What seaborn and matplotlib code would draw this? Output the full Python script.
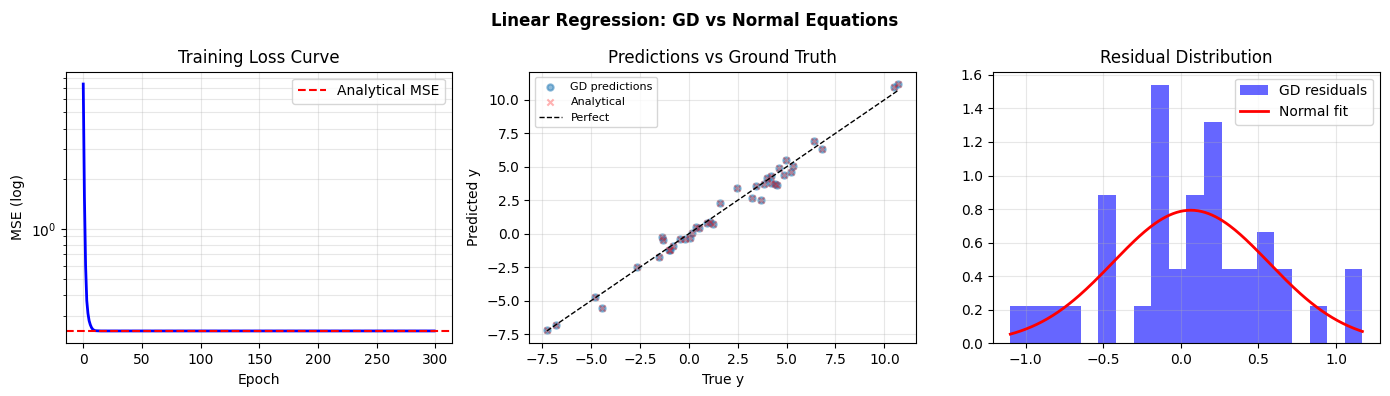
import numpy as np
import pandas as pd
import matplotlib
matplotlib.use("Agg")
import matplotlib.pyplot as plt
import seaborn as sns

# ---------------- data ----------------
epochs = [0, 1, 2, 3, 4, 5, 6, 7, 8, 9, 10, 12, 15, 299]
loss = [7.4, 1.55, 0.60, 0.37, 0.31, 0.28, 0.265, 0.255, 0.249, 0.246, 0.244, 0.2435, 0.243, 0.243]
analytical_mse = 0.243

y_true = [-7.26, -6.80, -4.80, -4.44, -2.63, -1.55, -1.35, -1.31, -1.01, -0.94,
          -0.80, -0.43, -0.20, 0.05, 0.14, 0.36, 0.53, 0.94, 1.08, 1.25,
          1.60, 2.48, 3.24, 3.45, 3.69, 3.86, 4.00, 4.18, 4.22, 4.51,
          4.61, 4.87, 4.99, 5.22, 5.31, 6.42, 6.83, 10.50, 10.72, 4.40]
y_pred_gd = [-7.16, -6.79, -4.69, -5.52, -2.45, -1.72, -0.25, -0.47, -1.25, -1.24,
             -0.92, -0.40, -0.42, -0.29, 0.02, 0.53, 0.45, 0.82, 0.85, 0.70,
             2.27, 3.39, 2.65, 3.54, 2.52, 3.69, 4.17, 4.34, 3.77, 3.65,
             4.89, 4.42, 5.50, 4.59, 5.07, 6.91, 6.32, 10.96, 11.18, 3.75]
y_pred_analytical = list(y_pred_gd)

# ---------------- figure ----------------
fig, axes = plt.subplots(1, 3, figsize=(13.9, 3.96), dpi=100)
fig.suptitle("Linear Regression: GD vs Normal Equations", fontsize=12,
             fontweight="bold", y=0.97)

# Panel 1: training loss
ax = axes[0]
ax.set_yscale("log")
sns.lineplot(x=epochs, y=loss, color="blue", linewidth=2, ax=ax)
ax.axhline(analytical_mse, color="red", linestyle="--", linewidth=1.5, label="Analytical MSE")
ax.set_title("Training Loss Curve")
ax.set_xlabel("Epoch")
ax.set_ylabel("MSE (log)")
ax.grid(True, which="both", alpha=0.3)
ax.legend(loc="upper right")

# Panel 2: predictions vs truth
ax = axes[1]
df = pd.DataFrame({"true": y_true, "gd": y_pred_gd, "ana": y_pred_analytical})
sns.scatterplot(data=df, x="true", y="gd", color="#1f77b4", edgecolor="#1f77b4",
                alpha=0.5, s=20, linewidth=1.5, label="GD predictions", ax=ax)
sns.scatterplot(data=df, x="true", y="ana", color="red", marker="x", alpha=0.3, s=20,
                linewidth=1.5, label="Analytical", ax=ax)
lo, hi = min(y_true), max(y_true)
ax.plot([lo, hi], [lo, hi], "k--", linewidth=1, label="Perfect")
ax.set_title("Predictions vs Ground Truth")
ax.set_xlabel("True y")
ax.set_ylabel("Predicted y")
ax.grid(True, alpha=0.3)
ax.legend(loc="upper left", fontsize=8)

# Panel 3: residual distribution
ax = axes[2]
residuals = np.array(y_true) - np.array(y_pred_gd)
sns.histplot(x=residuals, bins=20, stat="density", color="blue", alpha=0.6,
             edgecolor="none", linewidth=0, label="GD residuals", ax=ax)
mu, sd = residuals.mean(), residuals.std()
xs = np.linspace(residuals.min(), residuals.max(), 200)
pdf = np.exp(-0.5 * ((xs - mu) / sd) ** 2) / (sd * np.sqrt(2 * np.pi))
sns.lineplot(x=xs, y=pdf, color="red", linewidth=2, label="Normal fit", ax=ax)
ax.set_title("Residual Distribution")
ax.set_xlabel("")
ax.set_ylabel("")
ax.grid(True, alpha=0.3)
handles, labels = ax.get_legend_handles_labels()
order = [labels.index("GD residuals"), labels.index("Normal fit")]
ax.legend([handles[i] for i in order], [labels[i] for i in order], loc="upper right")

# layout matching the reference axes boxes
W, H = 1390.0, 396.0
bottom = 1 - 343.3 / H
height = (343.3 - 71.7) / H
for a, (x0, x1) in zip(axes, [(65.7, 451.7), (529.3, 916.0), (992.7, 1380.0)]):
    a.set_position([x0 / W, bottom, (x1 - x0) / W, height])

fig.savefig("out.png", dpi=100)
